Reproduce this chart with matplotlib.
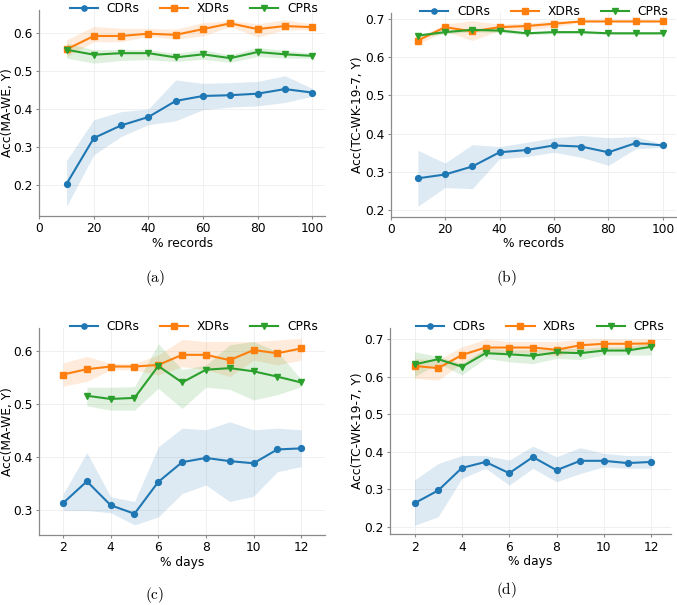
import matplotlib
matplotlib.use("Agg")
import matplotlib.pyplot as plt

plt.rcParams["mathtext.fontset"] = "cm"

# =========================================================
# Data
# =========================================================

records = [10, 20, 30, 40, 50, 60, 70, 80, 90, 100]
days = [2, 3, 4, 5, 6, 7, 8, 9, 10, 11, 12]
days_cpr = [3, 4, 5, 6, 7, 8, 9, 10, 11, 12]

# (a) Acc(MA-WE, Y) vs % records
a_cdr = [0.204, 0.324, 0.357, 0.379, 0.421, 0.434, 0.436, 0.440, 0.452, 0.443]
a_cdr_lo = [0.145, 0.280, 0.328, 0.359, 0.369, 0.398, 0.405, 0.408, 0.417, 0.433]
a_cdr_hi = [0.265, 0.372, 0.393, 0.400, 0.476, 0.467, 0.469, 0.472, 0.487, 0.454]
a_xdr = [0.556, 0.591, 0.591, 0.597, 0.594, 0.609, 0.624, 0.609, 0.617, 0.614]
a_xdr_lo = [0.537, 0.576, 0.576, 0.590, 0.583, 0.591, 0.616, 0.588, 0.607, 0.607]
a_xdr_hi = [0.581, 0.616, 0.611, 0.611, 0.609, 0.626, 0.631, 0.623, 0.633, 0.623]
a_cpr = [0.555, 0.542, 0.546, 0.546, 0.535, 0.543, 0.533, 0.549, 0.543, 0.539]
a_cpr_lo = [0.533, 0.520, 0.527, 0.529, 0.524, 0.530, 0.522, 0.537, 0.533, 0.533]
a_cpr_hi = [0.572, 0.555, 0.556, 0.555, 0.546, 0.555, 0.542, 0.561, 0.553, 0.546]

# (b) Acc(TC-WK-19-7, Y) vs % records
b_cdr = [0.283, 0.293, 0.314, 0.351, 0.357, 0.369, 0.366, 0.351, 0.375, 0.369]
b_cdr_lo = [0.210, 0.259, 0.256, 0.334, 0.340, 0.351, 0.338, 0.317, 0.360, 0.364]
b_cdr_hi = [0.356, 0.323, 0.371, 0.366, 0.377, 0.389, 0.395, 0.389, 0.392, 0.373]
b_xdr = [0.643, 0.678, 0.667, 0.678, 0.681, 0.687, 0.693, 0.693, 0.693, 0.693]
b_xdr_lo = [0.634, 0.667, 0.643, 0.669, 0.671, 0.678, 0.691, 0.691, 0.691, 0.691]
b_xdr_hi = [0.652, 0.686, 0.695, 0.686, 0.689, 0.695, 0.695, 0.695, 0.695, 0.695]
b_cpr = [0.656, 0.665, 0.671, 0.669, 0.662, 0.665, 0.665, 0.662, 0.662, 0.662]
b_cpr_lo = [0.652, 0.660, 0.666, 0.664, 0.658, 0.661, 0.661, 0.659, 0.659, 0.659]
b_cpr_hi = [0.660, 0.670, 0.676, 0.674, 0.666, 0.669, 0.669, 0.665, 0.665, 0.665]

# (c) Acc(MA-WE, Y) vs % days
c_cdr = [0.313, 0.354, 0.309, 0.293, 0.353, 0.390, 0.398, 0.392, 0.388, 0.414, 0.416]
c_cdr_lo = [0.299, 0.299, 0.295, 0.272, 0.287, 0.331, 0.347, 0.316, 0.326, 0.372, 0.382]
c_cdr_hi = [0.330, 0.408, 0.325, 0.316, 0.419, 0.454, 0.451, 0.466, 0.451, 0.454, 0.451]
c_xdr = [0.555, 0.565, 0.570, 0.570, 0.573, 0.592, 0.592, 0.582, 0.601, 0.595, 0.604]
c_xdr_lo = [0.533, 0.542, 0.564, 0.564, 0.554, 0.570, 0.564, 0.551, 0.582, 0.573, 0.582]
c_xdr_hi = [0.577, 0.589, 0.576, 0.576, 0.592, 0.621, 0.617, 0.617, 0.617, 0.620, 0.623]
c_cpr = [0.515, 0.509, 0.511, 0.571, 0.540, 0.564, 0.567, 0.561, 0.551, 0.540]
c_cpr_lo = [0.496, 0.488, 0.488, 0.529, 0.491, 0.531, 0.527, 0.507, 0.517, 0.532]
c_cpr_hi = [0.531, 0.531, 0.532, 0.613, 0.564, 0.573, 0.611, 0.617, 0.598, 0.546]

# (d) Acc(TC-WK-19-7, Y) vs % days
d_cdr = [0.263, 0.297, 0.357, 0.373, 0.343, 0.386, 0.351, 0.376, 0.376, 0.370, 0.373]
d_cdr_lo = [0.204, 0.227, 0.329, 0.356, 0.311, 0.356, 0.320, 0.342, 0.360, 0.356, 0.356]
d_cdr_hi = [0.325, 0.369, 0.390, 0.390, 0.378, 0.415, 0.387, 0.411, 0.396, 0.390, 0.390]
d_xdr = [0.629, 0.623, 0.658, 0.678, 0.678, 0.678, 0.672, 0.684, 0.688, 0.688, 0.689]
d_xdr_lo = [0.596, 0.591, 0.636, 0.663, 0.663, 0.664, 0.655, 0.670, 0.674, 0.674, 0.678]
d_xdr_hi = [0.649, 0.645, 0.680, 0.700, 0.694, 0.694, 0.694, 0.700, 0.702, 0.700, 0.702]
d_cpr = [0.633, 0.647, 0.627, 0.663, 0.660, 0.656, 0.665, 0.663, 0.670, 0.670, 0.680]
d_cpr_lo = [0.600, 0.636, 0.605, 0.649, 0.640, 0.635, 0.649, 0.646, 0.658, 0.658, 0.658]
d_cpr_hi = [0.667, 0.654, 0.636, 0.676, 0.672, 0.672, 0.676, 0.676, 0.680, 0.680, 0.694]

series_names = ["CDRs", "XDRs", "CPRs"]
colors = ["#1f77b4", "#ff7f0e", "#2ca02c"]
markers = ["o", "s", "v"]

FS = 8.8


# =========================================================
# One panel
# =========================================================

def draw_panel(ax, series, xlabel, ylabel, xlim, ylim, xticks, yticks, ylabel_x):
    for (x, y, lo, hi), name, c, m in zip(series, series_names, colors, markers):
        ax.fill_between(x, lo, hi, color=c, alpha=0.15, linewidth=0)
        ax.plot(x, y, color=c, marker=m, markersize=4.2, linewidth=1.5, label=name)

    ax.set_xlim(*xlim)
    ax.set_ylim(*ylim)
    ax.set_xticks(xticks)
    ax.set_yticks(yticks)
    ax.set_xlabel(xlabel, fontsize=FS, labelpad=1)
    ax.set_ylabel(ylabel, fontsize=FS, va="center")
    ax.yaxis.set_label_coords(ylabel_x, 0.5)
    ax.tick_params(labelsize=FS, length=2.5, width=0.8, color="#8a8a8a", pad=2)

    ax.grid(True, color="#f0f0f0", linewidth=0.7)
    ax.set_axisbelow(True)
    for side in ["top", "right"]:
        ax.spines[side].set_visible(False)
    for side in ["left", "bottom"]:
        ax.spines[side].set_color("#8a8a8a")
        ax.spines[side].set_linewidth(0.9)

    ax.legend(
        loc="lower right",
        bbox_to_anchor=(0.975, 0.975),
        ncol=3,
        frameon=False,
        fontsize=FS,
        handlelength=2.3,
        handletextpad=0.7,
        columnspacing=1.7,
        markerscale=0.9,
        borderaxespad=0,
        borderpad=0,
    )


fig = plt.figure(figsize=(6.77, 6.05), dpi=100)

ax_a = fig.add_axes([0.058, 0.643, 0.422, 0.3405])
ax_b = fig.add_axes([0.577, 0.642, 0.421, 0.3365])
ax_c = fig.add_axes([0.058, 0.1157, 0.422, 0.3417])
ax_d = fig.add_axes([0.5756, 0.1168, 0.416, 0.341])

draw_panel(
    ax_a,
    [(records, a_cdr, a_cdr_lo, a_cdr_hi),
     (records, a_xdr, a_xdr_lo, a_xdr_hi),
     (records, a_cpr, a_cpr_lo, a_cpr_hi)],
    "% records", "Acc(MA-WE, Y)",
    (0, 104.7), (0.12, 0.659),
    [0, 20, 40, 60, 80, 100], [0.2, 0.3, 0.4, 0.5, 0.6],
    -0.112,
)
draw_panel(
    ax_b,
    [(records, b_cdr, b_cdr_lo, b_cdr_hi),
     (records, b_xdr, b_xdr_lo, b_xdr_hi),
     (records, b_cpr, b_cpr_lo, b_cpr_hi)],
    "% records", "Acc(TC-WK-19-7, Y)",
    (0, 104.7), (0.183, 0.715),
    [0, 20, 40, 60, 80, 100], [0.2, 0.3, 0.4, 0.5, 0.6, 0.7],
    -0.115,
)
draw_panel(
    ax_c,
    [(days, c_cdr, c_cdr_lo, c_cdr_hi),
     (days, c_xdr, c_xdr_lo, c_xdr_hi),
     (days_cpr, c_cpr, c_cpr_lo, c_cpr_hi)],
    "% days", "Acc(MA-WE, Y)",
    (1.0, 13.0), (0.253, 0.642),
    [2, 4, 6, 8, 10, 12], [0.3, 0.4, 0.5, 0.6],
    -0.112,
)
draw_panel(
    ax_d,
    [(days, d_cdr, d_cdr_lo, d_cdr_hi),
     (days, d_xdr, d_xdr_lo, d_xdr_hi),
     (days, d_cpr, d_cpr_lo, d_cpr_hi)],
    "% days", "Acc(TC-WK-19-7, Y)",
    (0.95, 12.85), (0.18, 0.73),
    [2, 4, 6, 8, 10, 12], [0.2, 0.3, 0.4, 0.5, 0.6, 0.7],
    -0.113,
)

# captions
for label, (x, y) in zip(["a", "b", "c", "d"],
                         [(155, 278), (506, 278), (155, 595), (506, 590)]):
    fig.text(x / 677, 1 - y / 605, r"$\mathrm{(%s)}$" % label,
             fontsize=11, ha="center", va="center")

fig.savefig("out.png", dpi=100)
